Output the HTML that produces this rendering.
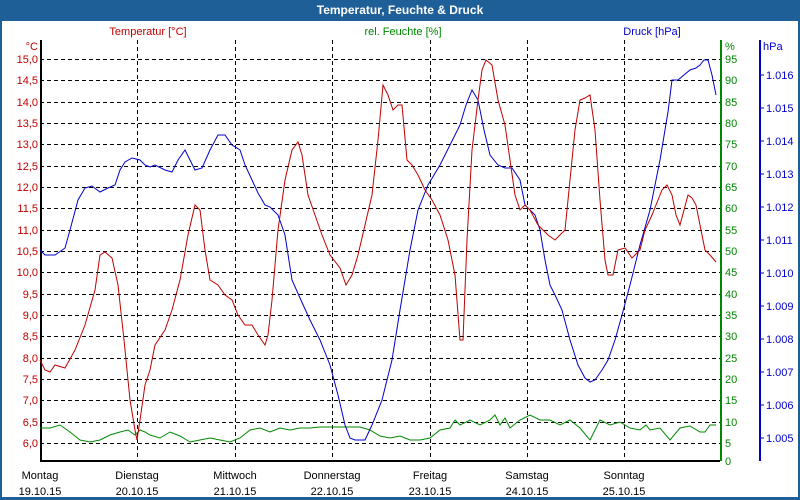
<!DOCTYPE html>
<html><head><meta charset="utf-8"><style>
body{margin:0;width:800px;height:500px;overflow:hidden;background:#fff}
svg{display:block;font-family:"Liberation Sans","DejaVu Sans",sans-serif;font-size:11px}
</style></head><body>
<svg width="800" height="500" viewBox="0 0 800 500">
<rect x="0" y="0" width="800" height="500" fill="#1f5f97"/>
<rect x="2" y="21" width="796" height="476" fill="#fff"/>
<text x="400" y="14" text-anchor="middle" fill="#fff" font-weight="bold" font-size="12">Temperatur, Feuchte &amp; Druck</text>
<g stroke="#000" stroke-dasharray="4,3" stroke-width="1">
<line x1="40" x2="720" y1="59.5" y2="59.5"/><line x1="40" x2="720" y1="80.5" y2="80.5"/><line x1="40" x2="720" y1="102.5" y2="102.5"/><line x1="40" x2="720" y1="123.5" y2="123.5"/><line x1="40" x2="720" y1="144.5" y2="144.5"/><line x1="40" x2="720" y1="166.5" y2="166.5"/><line x1="40" x2="720" y1="187.5" y2="187.5"/><line x1="40" x2="720" y1="208.5" y2="208.5"/><line x1="40" x2="720" y1="230.5" y2="230.5"/><line x1="40" x2="720" y1="251.5" y2="251.5"/><line x1="40" x2="720" y1="272.5" y2="272.5"/><line x1="40" x2="720" y1="294.5" y2="294.5"/><line x1="40" x2="720" y1="315.5" y2="315.5"/><line x1="40" x2="720" y1="336.5" y2="336.5"/><line x1="40" x2="720" y1="358.5" y2="358.5"/><line x1="40" x2="720" y1="379.5" y2="379.5"/><line x1="40" x2="720" y1="400.5" y2="400.5"/><line x1="40" x2="720" y1="422.5" y2="422.5"/><line x1="40" x2="720" y1="443.5" y2="443.5"/>
<line x1="137.5" x2="137.5" y1="40" y2="460"/><line x1="235.5" x2="235.5" y1="40" y2="460"/><line x1="332.5" x2="332.5" y1="40" y2="460"/><line x1="430.5" x2="430.5" y1="40" y2="460"/><line x1="527.5" x2="527.5" y1="40" y2="460"/><line x1="624.5" x2="624.5" y1="40" y2="460"/>
</g>
<polyline fill="none" stroke="#000" stroke-width="2" points="41,40 41,461 720,461"/>
<line x1="721" x2="721" y1="40" y2="461" stroke="#080" stroke-width="2"/>
<line x1="760" x2="760" y1="40" y2="461" stroke="#00c" stroke-width="2"/>
<g fill="#c00000" text-anchor="end">
<text x="38" y="50">°C</text>
<text x="38" y="63">15,0</text><text x="38" y="84">14,5</text><text x="38" y="106">14,0</text><text x="38" y="127">13,5</text><text x="38" y="148">13,0</text><text x="38" y="170">12,5</text><text x="38" y="191">12,0</text><text x="38" y="212">11,5</text><text x="38" y="234">11,0</text><text x="38" y="255">10,5</text><text x="38" y="276">10,0</text><text x="38" y="298">9,5</text><text x="38" y="319">9,0</text><text x="38" y="340">8,5</text><text x="38" y="362">8,0</text><text x="38" y="383">7,5</text><text x="38" y="404">7,0</text><text x="38" y="426">6,5</text><text x="38" y="447">6,0</text>
</g>
<g fill="#080">
<text x="725" y="50">%</text>
<text x="725" y="63">95</text><text x="725" y="84">90</text><text x="725" y="106">85</text><text x="725" y="127">80</text><text x="725" y="148">75</text><text x="725" y="170">70</text><text x="725" y="191">65</text><text x="725" y="212">60</text><text x="725" y="234">55</text><text x="725" y="255">50</text><text x="725" y="276">45</text><text x="725" y="298">40</text><text x="725" y="319">35</text><text x="725" y="340">30</text><text x="725" y="362">25</text><text x="725" y="383">20</text><text x="725" y="404">15</text><text x="725" y="426">10</text><text x="725" y="447">5</text><text x="725" y="465">0</text>
</g>
<g fill="#00c">
<text x="763" y="50">hPa</text>
<text x="766" y="79">1.016</text><text x="766" y="112">1.015</text><text x="766" y="145">1.014</text><text x="766" y="178">1.013</text><text x="766" y="211">1.012</text><text x="766" y="244">1.011</text><text x="766" y="277">1.010</text><text x="766" y="310">1.009</text><text x="766" y="343">1.008</text><text x="766" y="376">1.007</text><text x="766" y="409">1.006</text><text x="766" y="442">1.005</text>
</g>
<g stroke="#00c"><line x1="760" x2="764" y1="75" y2="75"/><line x1="760" x2="764" y1="108" y2="108"/><line x1="760" x2="764" y1="141" y2="141"/><line x1="760" x2="764" y1="174" y2="174"/><line x1="760" x2="764" y1="207" y2="207"/><line x1="760" x2="764" y1="240" y2="240"/><line x1="760" x2="764" y1="273" y2="273"/><line x1="760" x2="764" y1="306" y2="306"/><line x1="760" x2="764" y1="339" y2="339"/><line x1="760" x2="764" y1="372" y2="372"/><line x1="760" x2="764" y1="405" y2="405"/><line x1="760" x2="764" y1="438" y2="438"/></g>
<text x="148" y="35" text-anchor="middle" fill="#c00000">Temperatur [°C]</text>
<text x="403" y="35" text-anchor="middle" fill="#080">rel. Feuchte [%]</text>
<text x="652" y="35" text-anchor="middle" fill="#00c">Druck [hPa]</text>
<g fill="#000" text-anchor="middle">
<text x="40" y="479">Montag</text><text x="40" y="495">19.10.15</text>
<text x="137" y="479">Dienstag</text><text x="137" y="495">20.10.15</text>
<text x="235" y="479">Mittwoch</text><text x="235" y="495">21.10.15</text>
<text x="332" y="479">Donnerstag</text><text x="332" y="495">22.10.15</text>
<text x="430" y="479">Freitag</text><text x="430" y="495">23.10.15</text>
<text x="527" y="479">Samstag</text><text x="527" y="495">24.10.15</text>
<text x="624" y="479">Sonntag</text><text x="624" y="495">25.10.15</text>
</g>
<polyline fill="none" stroke="#080" points="40,428 50,428 60,425 70,432 80,440 90,442 100,440 110,435 120,432 128,430 135,435 140,430 145,432 150,435 160,438 170,432 180,436 190,442 200,440 210,438 220,440 230,442 240,438 250,430 260,428 270,432 280,428 290,430 300,428 310,428 320,427 340,427 360,427 370,430 380,436 390,438 400,436 410,440 420,440 430,438 440,430 450,428 455,420 460,425 470,420 480,425 490,420 495,415 500,425 505,418 510,428 520,420 530,415 540,420 550,420 560,425 570,420 580,428 590,440 600,420 610,425 620,422 630,428 640,430 646,425 650,430 660,428 670,440 680,428 690,426 700,432 705,432 710,425 716,425"/>
<polyline fill="none" stroke="#00c" points="40,250 45,255 55,255 65,248 70,230 78,200 85,188 92,186 100,192 108,188 115,185 120,170 125,162 132,158 140,160 145,165 150,167 155,165 165,170 172,172 178,160 185,150 190,160 195,170 202,168 210,150 218,135 225,135 232,145 240,150 245,165 252,180 258,193 265,205 270,207 278,215 285,235 292,280 300,298 310,320 320,340 330,365 338,395 345,425 350,438 355,440 365,440 372,425 382,400 392,360 400,310 410,250 418,210 428,185 440,165 450,145 460,125 466,105 472,90 478,100 484,130 490,155 498,165 505,168 512,168 520,180 525,205 530,210 535,215 540,230 545,260 550,285 555,295 562,310 570,340 578,365 585,378 590,382 595,380 602,370 608,360 615,340 622,315 630,285 640,245 650,210 660,160 668,112 672,80 678,80 684,75 690,70 696,68 700,65 704,60 708,60 712,75 716,95"/>
<polyline fill="none" stroke="#c00000" points="40,360 45,370 50,372 55,365 65,368 75,350 85,325 95,290 100,255 105,252 112,258 118,285 124,340 130,400 135,430 137,440 140,420 145,385 150,370 155,345 165,330 172,310 180,280 188,235 195,205 200,210 205,250 210,280 218,285 225,295 232,300 238,315 245,325 252,325 258,335 265,345 268,335 272,300 278,230 285,180 292,150 298,142 302,155 308,195 315,215 322,235 330,255 340,268 346,285 352,275 358,255 365,225 372,195 378,140 383,85 388,95 393,110 398,105 402,105 407,160 412,165 418,175 425,190 432,200 440,215 448,240 455,275 460,340 463,340 467,240 472,150 478,100 482,70 486,60 492,65 498,100 505,125 510,160 515,195 520,210 525,205 530,210 538,225 543,230 548,235 555,240 565,230 570,180 575,130 580,100 585,98 590,95 595,130 600,200 605,260 608,275 613,275 618,250 625,248 632,258 640,250 645,230 652,215 658,200 662,190 667,185 672,195 676,215 680,225 684,210 688,195 692,198 696,205 700,225 705,250 710,255 716,262"/>
</svg>
</body></html>
